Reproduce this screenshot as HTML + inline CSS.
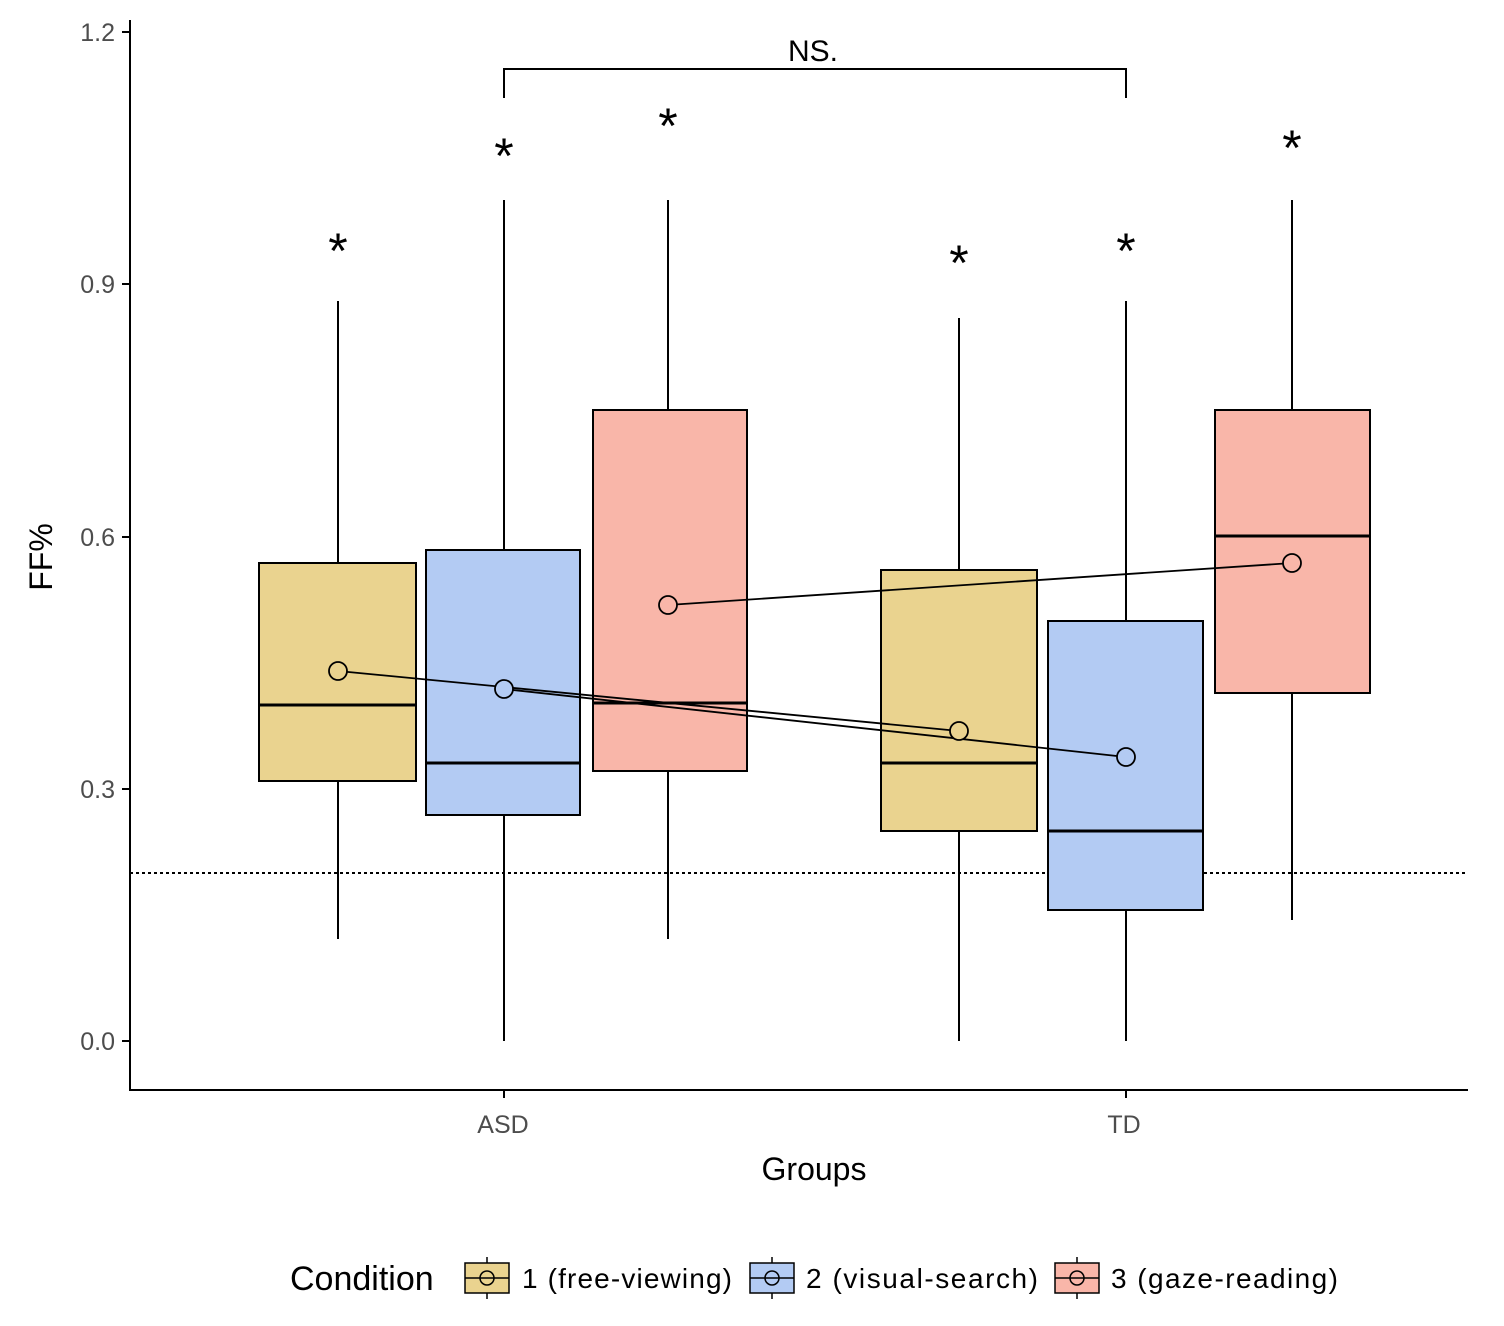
<!DOCTYPE html>
<html><head><meta charset="utf-8"><style>body{margin:0;background:#fff}</style></head><body>
<svg width="1504" height="1321" xmlns="http://www.w3.org/2000/svg" font-family="Liberation Sans, sans-serif">
<rect width="1504" height="1321" fill="#fff"/>
<g stroke="#000" stroke-width="2" fill="none">
<line x1="130" y1="20" x2="130" y2="1091"/>
<line x1="129" y1="1090" x2="1468" y2="1090"/>
<line x1="122" y1="32" x2="130" y2="32"/><line x1="122" y1="284" x2="130" y2="284"/><line x1="122" y1="537" x2="130" y2="537"/><line x1="122" y1="789" x2="130" y2="789"/><line x1="122" y1="1041" x2="130" y2="1041"/>
<line x1="504" y1="1090" x2="504" y2="1098"/><line x1="1126" y1="1090" x2="1126" y2="1098"/>
<line x1="130" y1="873" x2="1468" y2="873" stroke-dasharray="3,3"/>
<polyline points="504,98 504,69 1126,69 1126,98"/>
<line x1="338" y1="301" x2="338" y2="939"/><line x1="504" y1="200" x2="504" y2="1041"/><line x1="668" y1="200" x2="668" y2="939"/>
<line x1="959" y1="318" x2="959" y2="1041"/><line x1="1126" y1="301" x2="1126" y2="1041"/><line x1="1292" y1="200" x2="1292" y2="920"/>
</g>
<g stroke="#000" stroke-width="2">
<rect x="259" y="563" width="157" height="218" fill="#ead38f"/>
<rect x="426" y="550" width="154" height="265" fill="#b3cbf3"/>
<rect x="593" y="410" width="154" height="361" fill="#f9b6a9"/>
<rect x="881" y="570" width="156" height="261" fill="#ead38f"/>
<rect x="1048" y="621" width="155" height="289" fill="#b3cbf3"/>
<rect x="1215" y="410" width="155" height="283" fill="#f9b6a9"/>
</g>
<g stroke="#000" stroke-width="3">
<line x1="259" y1="705" x2="416" y2="705"/><line x1="426" y1="763" x2="580" y2="763"/><line x1="593" y1="703" x2="747" y2="703"/>
<line x1="881" y1="763" x2="1037" y2="763"/><line x1="1048" y1="831" x2="1203" y2="831"/><line x1="1215" y1="536" x2="1370" y2="536"/>
</g>
<g stroke="#000" stroke-width="1.8">
<line x1="338" y1="671" x2="959" y2="731"/><line x1="504" y1="689" x2="1126" y2="757"/><line x1="668" y1="605" x2="1292" y2="563"/>
<circle cx="338" cy="671" r="9" fill="#ead38f"/><circle cx="959" cy="731" r="9" fill="#ead38f"/>
<circle cx="504" cy="689" r="9" fill="#b3cbf3"/><circle cx="1126" cy="757" r="9" fill="#b3cbf3"/>
<circle cx="668" cy="605" r="9" fill="#f9b6a9"/><circle cx="1292" cy="563" r="9" fill="#f9b6a9"/>
</g>
<g font-size="50" text-anchor="middle" fill="#000">
<text x="338" y="268">*</text><text x="504" y="173">*</text><text x="668" y="143">*</text>
<text x="959" y="280">*</text><text x="1126" y="268">*</text><text x="1292" y="165">*</text>
</g>
<text x="813" y="61" font-size="30" text-anchor="middle">NS.</text>
<g font-size="25" fill="#4d4d4d" text-anchor="end">
<text x="115" y="41">1.2</text><text x="115" y="293">0.9</text><text x="115" y="546">0.6</text><text x="115" y="798">0.3</text><text x="115" y="1050">0.0</text>
</g>
<g font-size="25" fill="#4d4d4d" text-anchor="middle"><text x="503" y="1133">ASD</text><text x="1124" y="1133">TD</text></g>
<text x="814" y="1180" font-size="32" text-anchor="middle">Groups</text>
<text transform="translate(52,557) rotate(-90)" font-size="32" text-anchor="middle">FF%</text>
<text x="290" y="1290" font-size="34">Condition</text>
<g stroke="#000" stroke-width="1.5">
<line x1="487" y1="1257" x2="487" y2="1299"/><rect x="465" y="1263" width="44" height="30" fill="#ead38f"/><line x1="465" y1="1278" x2="509" y2="1278"/><circle cx="487" cy="1278" r="7" fill="none"/>
<line x1="772" y1="1257" x2="772" y2="1299"/><rect x="750" y="1263" width="44" height="30" fill="#b3cbf3"/><line x1="750" y1="1278" x2="794" y2="1278"/><circle cx="772" cy="1278" r="7" fill="none"/>
<line x1="1077" y1="1257" x2="1077" y2="1299"/><rect x="1055" y="1263" width="44" height="30" fill="#f9b6a9"/><line x1="1055" y1="1278" x2="1099" y2="1278"/><circle cx="1077" cy="1278" r="7" fill="none"/>
</g>
<g font-size="28"><text x="522" y="1288" textLength="210">1 (free-viewing)</text><text x="806" y="1288" textLength="232">2 (visual-search)</text><text x="1111" y="1288" textLength="227">3 (gaze-reading)</text></g>
</svg>
</body></html>
